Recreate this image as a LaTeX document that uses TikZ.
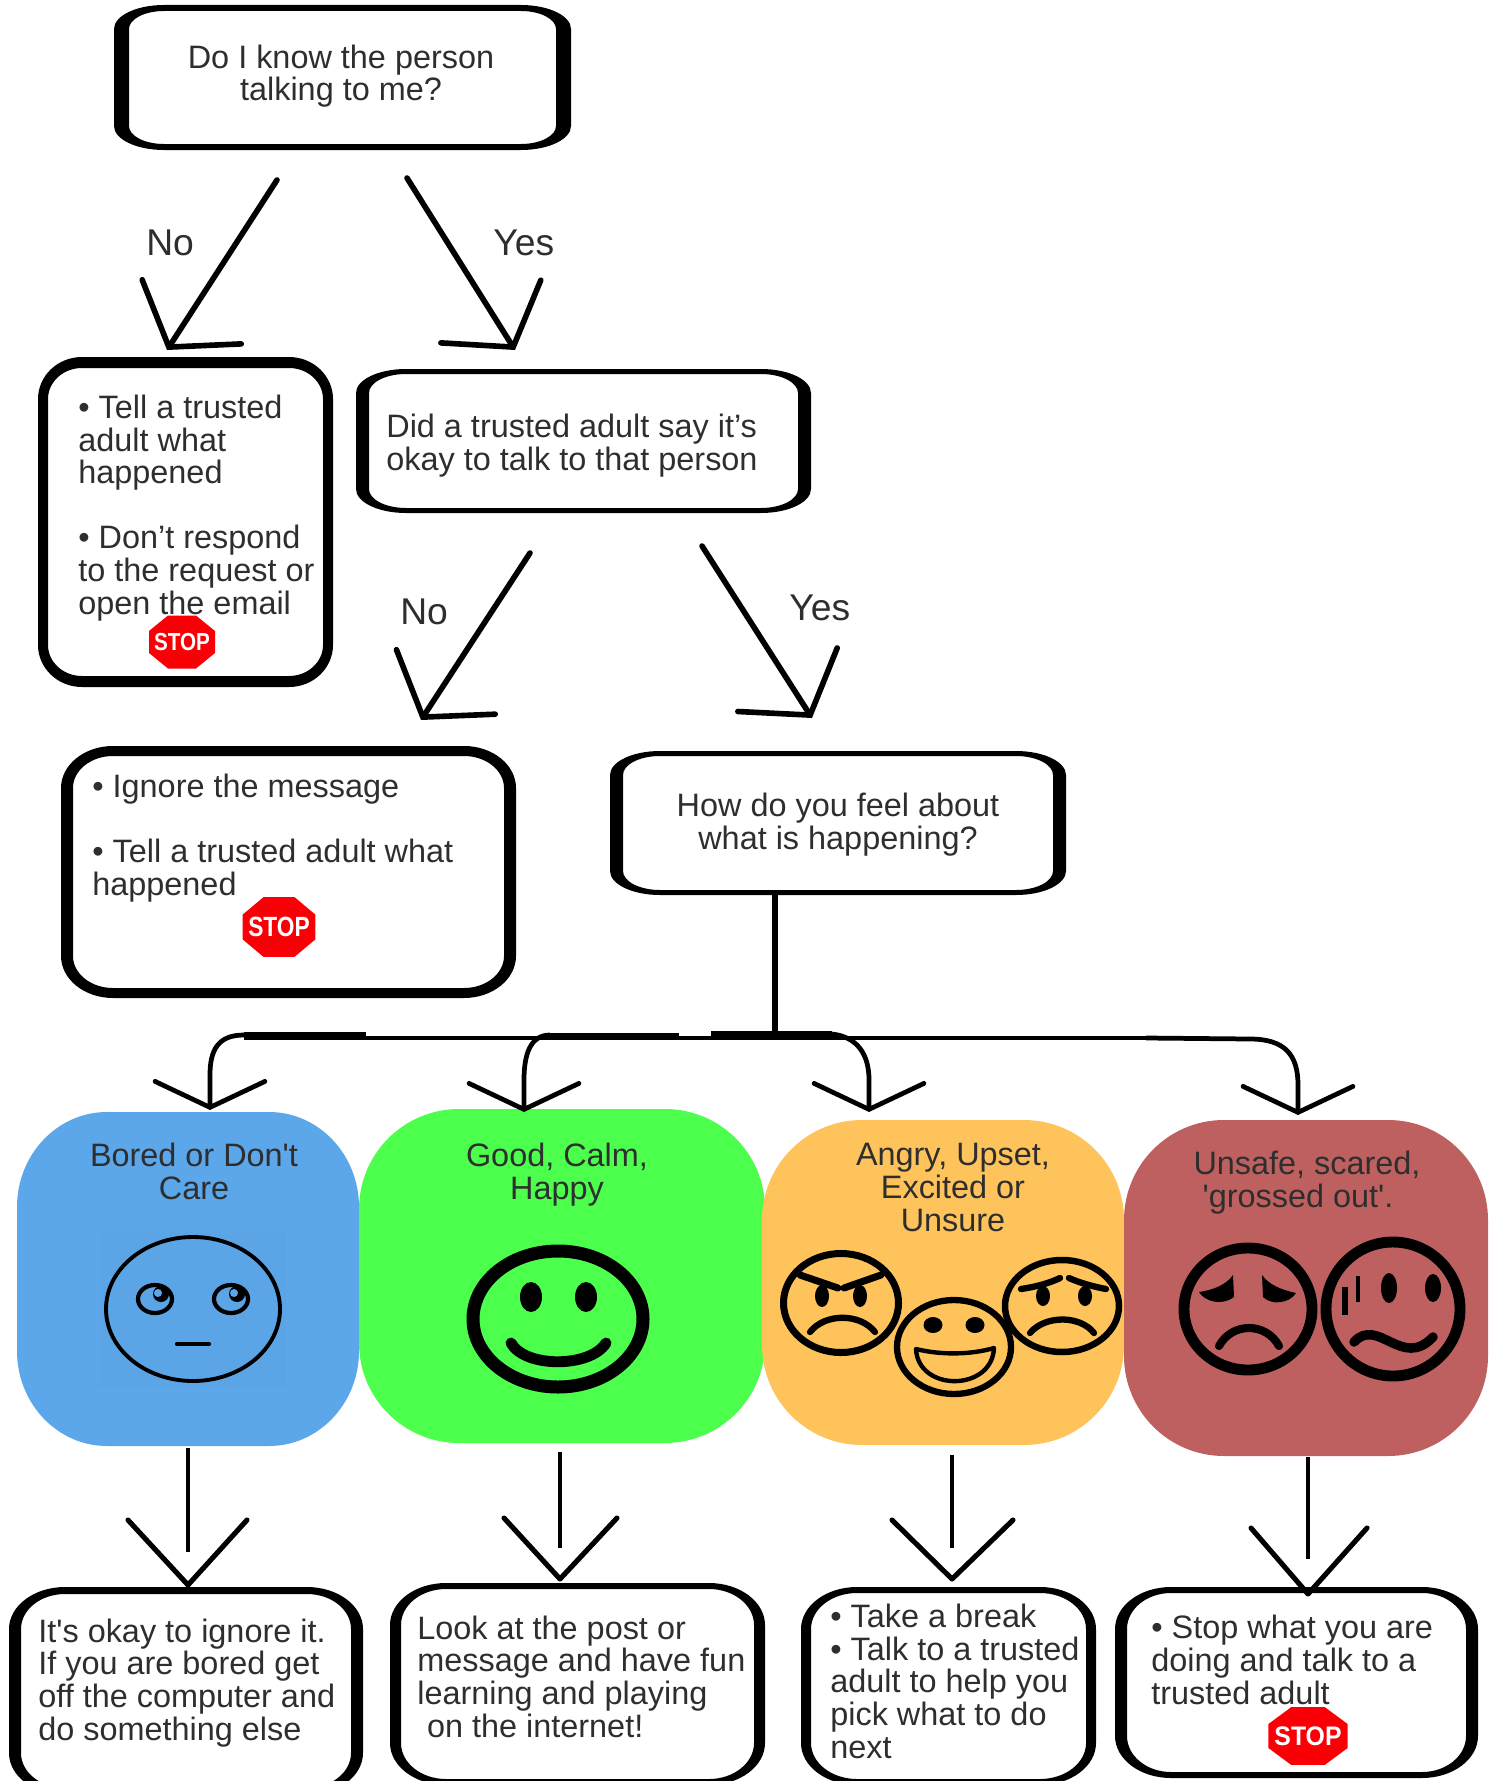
\documentclass[tikz,border=0pt]{standalone}
\usepackage{fontspec}
\usepackage{graphicx}
\usetikzlibrary{arrows.meta}
\newfontfamily\boxfont{Liberation Sans}
\definecolor{boredblue}{HTML}{5CA6EA}
\definecolor{boredpatch}{HTML}{5BA4E6}
\definecolor{goodgreen}{HTML}{4CFF4C}
\definecolor{angryorange}{HTML}{FFC35C}
\definecolor{unsafered}{HTML}{BF6060}
\definecolor{inktext}{HTML}{2E2E2E}
\definecolor{stopred}{HTML}{FA0006}
\newcommand{\roundrect}[6]{({(#1)+(#5)},#2) -- ({(#3)-(#5)},#2)
  arc[start angle=-90,end angle=0,x radius={#5},y radius={#6}] -- (#3,{(#4)-(#6)})
  arc[start angle=0,end angle=90,x radius={#5},y radius={#6}] -- ({(#1)+(#5)},#4)
  arc[start angle=90,end angle=180,x radius={#5},y radius={#6}] -- (#1,{(#2)+(#6)})
  arc[start angle=180,end angle=270,x radius={#5},y radius={#6}] -- cycle }
\newcommand{\ringbox}[8]{\fill[even odd rule] \roundrect{#1}{#2}{#3}{#4}{#5}{#6}
  \roundrect{#1+#7}{#2+#8}{#3-#7}{#4-#8}{#5-#7}{#6-#8};}
\newcommand{\stopsign}[5]{\begin{scope}[shift={(#2,#3)},xscale=#4,yscale=#5]
  \fill[stopred] (-33,-11)--(-14,-26.5)--(14,-26.5)--(33,-11)--(33,11)--(14,26.5)--(-14,26.5)--(-33,11)--cycle;
  \node[stoptext] (#1) at (0,0) {STOP};
  \end{scope}}
\tikzset{
  boxtext/.style={font=\boxfont\fontsize{18.45}{18.55}\selectfont,text=inktext,inner sep=0pt,align=left,anchor=base west},
  midtext/.style={boxtext,align=center,anchor=base},
  forktext/.style={font=\boxfont\fontsize{21.2}{21.2}\selectfont,text=inktext,inner sep=0pt,anchor=base west},
  stoptext/.style={font=\boxfont\bfseries\fontsize{14}{14}\selectfont,text=white,inner sep=0pt,transform shape,xscale=0.84},
  bigarrow/.style={line width=3.2pt,line cap=round,-{Straight Barb[length=0.84cm,width=2.36cm,line cap=round]}},
  treearrow/.style={line width=2.7pt,-{Straight Barb[length=0.52cm,width=2.2cm,line cap=round]}},
  stem/.style={line width=2.2pt},
  vee/.style={line width=2.9pt,line cap=round},
  face/.style={line width=#1},
  ink/.style={line width=#1,line cap=round}
}
\begin{document}
\begin{tikzpicture}[line join=round,x=0.02cm,y=-0.02cm]
\clip (0,0) rectangle (1496,1781);

% question boxes
\ringbox{114}{5}{571}{150}{50}{24}{15}{6}
\ringbox{38}{357}{333}{687}{44}{42}{10}{11}
\ringbox{356}{369}{811}{513}{50}{24}{13}{5}
\ringbox{61}{746}{516}{998}{52}{42}{12}{10}
\ringbox{610}{751}{1066}{895}{50}{24}{13}{5}

\node[midtext] (knowText) at (341,101) {Do I know the person\\talking to me?};
\node[boxtext] (tellText) at (78,614) {• Tell a trusted\\adult what\\happened\\ \\• Don’t respond\\to the request or\\open the email};
\node[boxtext] (didText) at (386,470) {Did a trusted adult say it’s\\okay to talk to that person};
\node[boxtext] (ignoreText) at (92,895) {• Ignore the message\\ \\• Tell a trusted adult what\\happened};
\node[midtext] (feelText) at (838,849) {How do you feel about\\what is happening?};

\stopsign{stopTell}{182}{642}{1}{1}
\stopsign{stopIgnore}{279}{927}{1.1}{1.13}

% forks
\coordinate (knowNo) at (277,180);
\coordinate (tellTip) at (167,350);
\coordinate (knowYes) at (407,178);
\coordinate (didTip) at (515,350);
\coordinate (didNo) at (530,553);
\coordinate (ignoreTip) at (421,720);
\coordinate (didYes) at (702,546);
\coordinate (feelTip) at (812,718);
\draw[bigarrow] (knowNo) -- (tellTip);
\draw[bigarrow] (knowYes) -- (didTip);
\draw[bigarrow] (didNo) -- (ignoreTip);
\draw[bigarrow] (didYes) -- (feelTip);
\node[forktext] (noOne) at (146,255) {No};
\node[forktext] (yesOne) at (493,255) {Yes};
\node[forktext] (noTwo) at (400,624) {No};
\node[forktext] (yesTwo) at (789,620) {Yes};

% feeling blobs
\fill[boredblue] \roundrect{17}{1112}{359}{1446}{90}{95};
\fill[goodgreen] \roundrect{359}{1109}{765}{1443}{100}{100};
\fill[angryorange] \roundrect{762}{1120}{1124}{1445}{100}{100};
\fill[unsafered] \roundrect{1124}{1120}{1488}{1456}{100}{100};
\fill[boredpatch] (99,1232) rectangle (286,1387);

\node[midtext] (boredText) at (194,1199) {Bored or Don't\\Care};
\node[midtext] (goodText) at (557,1199) {Good, Calm,\\Happy};
\node[midtext] (angryText) at (953,1231) {Angry, Upset,\\Excited or\\Unsure};
\node[midtext] (unsafeText) at (1307,1207) {Unsafe, scared,\\'grossed out'.\hspace*{0.55em}};

% trunk
\coordinate (feelOut) at (775,895);
\coordinate (trunkMid) at (775,1036);
\coordinate (trunkL) at (244,1038);
\coordinate (trunkR) at (1146,1038);
\draw[line width=3.2pt] (feelOut) -- (trunkMid);
\draw[line width=2.8pt] (trunkL) -- (trunkR);
\draw[line width=4.2pt] (244,1036) -- (366,1036);
\draw[line width=3.2pt] (550,1036) -- (679,1036);
\draw[line width=3.8pt] (711,1034) -- (832,1034);
\coordinate (boredTip) at (210,1110);
\coordinate (goodTip) at (524,1112);
\coordinate (angryTip) at (869,1112);
\coordinate (unsafeTip) at (1298,1115);
\draw[treearrow] (244,1035) .. controls (218,1035) and (210,1050) .. (210,1075) -- (boredTip);
\draw[treearrow] (550,1035) .. controls (530,1035) and (524,1055) .. (524,1080) -- (goodTip);
\draw[treearrow] (832,1034) .. controls (858,1037) and (869,1055) .. (869,1080) -- (angryTip);
\draw[treearrow] (trunkR) -- (1250,1039) .. controls (1285,1039) and (1298,1055) .. (1298,1085) -- (unsafeTip);

% bored face
\draw[face=2.2pt] (193,1309) ellipse [x radius=87,y radius=72];
\draw[face=2.4pt] (155,1299) ellipse [x radius=17,y radius=14];
\draw[face=2.4pt] (231,1299) ellipse [x radius=17,y radius=14];
\fill (161,1294) circle (8);
\fill (237,1294) circle (8);
\fill[boredblue] (158,1293) circle (4);
\fill[boredblue] (234,1293) circle (4);
\draw[ink=2.4pt] (177,1344) -- (209,1344);

% good face
\draw[face=7.4pt] (558,1319) ellipse [x radius=85,y radius=68];
\fill (531,1297) ellipse [x radius=11,y radius=15];
\fill (586,1297) ellipse [x radius=11,y radius=15];
\draw[ink=6.2pt] (511,1343) .. controls (525,1368) and (590,1368) .. (606,1343);

% angry face
\draw[face=4pt] (841,1303) ellipse [x radius=57.5,y radius=49.5];
\draw[ink=4pt] (800,1275) -- (838,1288);
\draw[ink=4pt] (844,1288) -- (881,1275);
\fill (822,1296) ellipse [x radius=7,y radius=11];
\fill (860,1296) ellipse [x radius=7,y radius=11];
\draw[ink=3.6pt] (810,1332) .. controls (825,1313) and (860,1313) .. (875,1332);

% happy face
\draw[face=3.6pt] (954,1347) ellipse [x radius=57,y radius=47];
\fill (933,1325) ellipse [x radius=9.5,y radius=8];
\fill (975,1325) ellipse [x radius=9.5,y radius=8];
\draw[ink=2.5pt] (916,1349) .. controls (940,1355) and (970,1355) .. (994,1348) .. controls (992,1392) and (918,1392) .. (916,1349) -- cycle;

% worried face
\draw[face=3.7pt] (1062,1306) ellipse [x radius=57,y radius=46];
\draw[ink=3.6pt] (1021,1289) .. controls (1035,1287) and (1050,1283) .. (1060,1278);
\draw[ink=3.6pt] (1069,1278) .. controls (1080,1283) and (1095,1287) .. (1106,1289);
\fill (1043,1296) ellipse [x radius=7,y radius=10];
\fill (1085,1296) ellipse [x radius=7,y radius=10];
\draw[ink=3.6pt] (1030,1333) .. controls (1045,1315) and (1080,1315) .. (1094,1333);

% sad face
\draw[face=6.2pt] (1248,1309) ellipse [x radius=64,y radius=61];
\fill (1233,1275) .. controls (1226,1285) and (1213,1290) .. (1199,1292) .. controls (1205,1302) and (1222,1306) .. (1234,1297) -- cycle;
\fill (1262,1275) .. controls (1269,1285) and (1282,1290) .. (1296,1293) .. controls (1290,1303) and (1272,1306) .. (1263,1297) -- cycle;
\draw[ink=4.6pt] (1219,1346) .. controls (1232,1322) and (1266,1322) .. (1279,1346);

% scared face
\draw[face=6.2pt] (1393,1309) ellipse [x radius=67,y radius=67];
\fill (1389,1288) ellipse [x radius=8,y radius=15];
\fill (1433,1288) ellipse [x radius=8,y radius=14];
\draw[line width=3.2pt] (1345,1287) -- (1345,1315);
\draw[line width=2.6pt] (1358,1276) -- (1358,1302);
\draw[ink=5.4pt] (1354,1342) .. controls (1378,1316) and (1402,1370) .. (1433,1337);

% answer boxes
\ringbox{9}{1587}{363}{1795}{56}{42}{12}{7}
\ringbox{390}{1583}{765}{1785}{56}{42}{11}{6}
\ringbox{801}{1587}{1096}{1785}{56}{42}{10}{6}
\ringbox{1115}{1587}{1478}{1778}{56}{42}{12}{6}

\node[boxtext] (boredAnswer) at (38,1740) {It's okay to ignore it.\\If you are bored get\\off the computer and\\do something else};
\node[boxtext] (goodAnswer) at (417,1737) {Look at the post or\\message and have fun\\learning and playing\\\hspace*{0.3em}on the internet!};
\node[boxtext] (angryAnswer) at (830,1758) {• Take a break\\• Talk to a trusted\\adult to help you\\pick what to do\\next};
\node[boxtext] (unsafeAnswer) at (1151,1704) {• Stop what you are\\doing and talk to a\\trusted adult};
\stopsign{stopUnsafe}{1308}{1736}{1.2}{1.09}

% bottom stems and vees
\coordinate (boredOut) at (188,1448);
\coordinate (boredEnd) at (188,1552);
\coordinate (boredL) at (128,1520);
\coordinate (boredV) at (188,1585);
\coordinate (boredR) at (247,1520);
\coordinate (goodOut) at (560,1452);
\coordinate (goodEnd) at (560,1548);
\coordinate (goodL) at (504,1518);
\coordinate (goodV) at (560,1579);
\coordinate (goodR) at (617,1518);
\coordinate (angryOut) at (952,1455);
\coordinate (angryEnd) at (952,1548);
\coordinate (angryL) at (892,1520);
\coordinate (angryV) at (952,1579);
\coordinate (angryR) at (1013,1520);
\coordinate (unsafeOut) at (1308,1457);
\coordinate (unsafeEnd) at (1308,1559);
\coordinate (unsafeL) at (1251,1528);
\coordinate (unsafeV) at (1308,1594);
\coordinate (unsafeR) at (1367,1528);
\draw[stem] (boredOut) -- (boredEnd);
\draw[vee] (boredL) -- (boredV) -- (boredR);
\draw[stem] (goodOut) -- (goodEnd);
\draw[vee] (goodL) -- (goodV) -- (goodR);
\draw[stem] (angryOut) -- (angryEnd);
\draw[vee] (angryL) -- (angryV) -- (angryR);
\draw[stem] (unsafeOut) -- (unsafeEnd);
\draw[vee] (unsafeL) -- (unsafeV) -- (unsafeR);
\end{tikzpicture}
\end{document}
